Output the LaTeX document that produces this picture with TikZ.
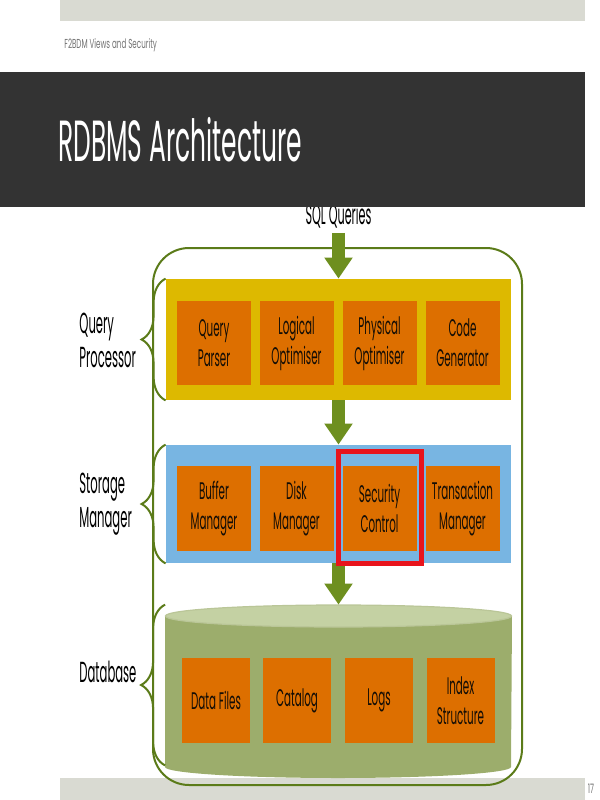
\documentclass[tikz,border=0pt]{standalone}
\usepackage{fontspec}
\setmainfont{Poppins}[FakeStretch=0.43]
\newfontfamily\titlefont{Poppins}[FakeStretch=0.43]
\newfontfamily\labelfont{Poppins}[FakeStretch=0.40]
\newfontfamily\footerfont{Poppins}[FakeStretch=0.55]
\definecolor{slideBar}{HTML}{D9DAD2}
\definecolor{slideDark}{HTML}{333333}
\definecolor{frameOlive}{HTML}{5B7B19}
\definecolor{arrowOlive}{HTML}{6E8F1F}
\definecolor{qpGold}{HTML}{DDB900}
\definecolor{smBlue}{HTML}{78B5E2}
\definecolor{boxOrange}{HTML}{DD6F00}
\definecolor{dbBody}{HTML}{9CAD6C}
\definecolor{dbTop}{HTML}{C4D1A3}
\definecolor{markRed}{HTML}{E8141C}
\usetikzlibrary{
	arrows.meta,
	positioning,
	decorations.pathreplacing
}
\tikzset{
	band/.style={
		inner sep=0pt,
		minimum width=172.5pt
	},
	part/.style={
		fill=boxOrange,
		text=black!90!brown,
		align=center,
		inner sep=0pt,
		minimum width=37pt,
		minimum height=42pt,
		font=\fontsize{12}{15}\selectfont
	},
	layerlabel/.style={
		align=left,
		inner sep=0pt,
		font=\labelfont\fontsize{14.5}{17}\selectfont
	},
	footer/.style={
		text=black!55,
		inner sep=0pt,
		font=\footerfont\fontsize{6.5}{7}\selectfont
	},
	flow/.style={
		-{Triangle[length=10.5pt,width=13.5pt]},
		line width=6.5pt,
		arrowOlive
	},
	layerbrace/.style={
		decorate,
		decoration={brace, amplitude=12pt},
		line width=1pt,
		frameOlive
	},
	highlight/.style={
		draw=markRed,
		line width=2.5pt
	}
}

\begin{document}
\begin{tikzpicture}[x=0.5pt, y=-0.5pt]
	\useasboundingbox (0,0) rectangle (600,800);
	% slide background
	\fill[slideBar] (60,0) rectangle (585,21);
	\fill[slideBar] (60,778) rectangle (585,800);
	\node[footer, anchor=west] (course) at (64,45) {F2BDM Views and Security};
	\node[footer] (page) at (591,789) {17};
	\node[font=\labelfont\fontsize{14}{16}\selectfont, inner sep=2pt] (sql) at (338.5,216) {SQL Queries};
	\fill[slideDark] (0,72) rectangle (585,207);
	\node[text=white, inner sep=0pt, anchor=base west, font=\titlefont\fontsize{29}{32}\selectfont] (title) at (58,161) {RDBMS Architecture};
	% outer frame
	\draw[frameOlive, line width=1pt, rounded corners=18pt] (153,248) rectangle (522,785);
	% layers
	\node[band, fill=qpGold, minimum height=60.5pt] (qp) at (338.5,339.5) {};
	\node[band, fill=smBlue, minimum height=59pt] (sm) at (338.5,504) {};
	\node[band, minimum width=173pt, minimum height=86.5pt] (db) at (338.5,691.5) {};
	\fill[dbBody] (165,616) -- (165,767) arc[start angle=180, end angle=360, x radius=86.5pt, y radius=5.5pt] -- (512,616) -- cycle;
	\filldraw[fill=dbTop, draw=dbBody!70!white, line width=0.6pt] (338.5,616) ellipse[x radius=86.5pt, y radius=5.5pt];
	\foreach \i/\x/\lab in {1/214/{Query\\Parser},2/296.5/{Logical\\Optimiser},3/379.5/{Physical\\Optimiser},4/462.5/{Code\\Generator}}{
		\node[part] (qp\i) at (\x,343) {\lab};
	}
	\foreach \i/\x/\lab in {1/214/{Buffer\\Manager},2/296.5/{Disk\\Manager},3/379.5/{Security\\Control},4/462.5/{Transaction\\Manager}}{
		\node[part, minimum height=42.5pt] (sm\i) at (\x,508.5) {\lab};
	}
	\foreach \i/\x/\lab in {1/216/{Data Files},2/297/{Catalog},3/379/{Logs},4/460.5/{Index\\Structure}}{
		\node[part, minimum width=34pt, minimum height=42.5pt] (db\i) at (\x,700.5) {\lab};
	}
	% flow between layers
	\draw[flow] (sql) -- (qp);
	\draw[flow] (qp) -- (sm);
	\draw[flow] (sm) -- (db);
	% braces and labels
	\draw[layerbrace] (qp.south west) -- (qp.north west);
	\draw[layerbrace] (sm.south west) -- (sm.north west);
	\draw[layerbrace] ([yshift=6.5pt]db.south west) -- (db.north west);
	\node[layerlabel, anchor=west] (qplab) at (79,340) {Query\\Processor};
	\node[layerlabel, anchor=west] (smlab) at (79,504) {Storage\\Manager};
	\node[layerlabel, anchor=west] (dblab) at (79,672) {Database};
	% security control mark
	\draw[highlight] ([shift={(-3.5,-14.5)}]sm3.north west) rectangle ([shift={(4.5,12.5)}]sm3.south east);
\end{tikzpicture}
\end{document}
